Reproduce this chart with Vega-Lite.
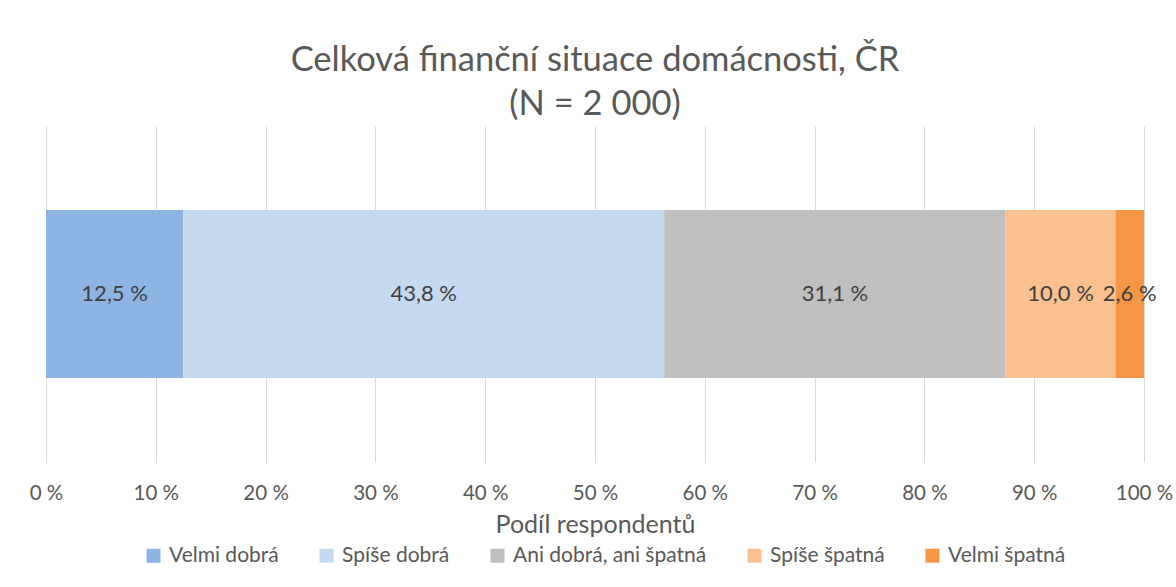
{
  "$schema": "https://vega.github.io/schema/vega-lite/v6.json",
  "width": 1098,
  "height": 336,
  "autosize": {"type": "none"},
  "padding": {"left": 46, "top": 126, "right": 32, "bottom": 125},
  "background": "white",
  "title": {
    "text": ["Celková finanční situace domácnosti, ČR", "(N = 2 000)"],
    "fontSize": 34.5,
    "fontWeight": "normal",
    "font": "Lato",
    "color": "#595959",
    "lineHeight": 44,
    "anchor": "middle",
    "offset": 4
  },
  "data": {
    "values": [
      {"kategorie": "Velmi dobrá", "podil": 12.5, "o": 1, "radek": "ČR"},
      {"kategorie": "Spíše dobrá", "podil": 43.8, "o": 2, "radek": "ČR"},
      {"kategorie": "Ani dobrá, ani špatná", "podil": 31.1, "o": 3, "radek": "ČR"},
      {"kategorie": "Spíše špatná", "podil": 10.0, "o": 4, "radek": "ČR"},
      {"kategorie": "Velmi špatná", "podil": 2.6, "o": 5, "radek": "ČR"}
    ]
  },
  "transform": [
    {"stack": "podil", "groupby": ["radek"], "sort": [{"field": "o"}], "as": ["v0", "v1"]},
    {"calculate": "(datum.v0 + datum.v1) / 2", "as": "mid"},
    {"calculate": "replace(format(datum.podil, '.1f'), '.', ',') + ' %'", "as": "popisek"}
  ],
  "encoding": {
    "y": {
      "field": "radek",
      "type": "nominal",
      "axis": null,
      "scale": {"paddingInner": 0.5, "paddingOuter": 0.25}
    }
  },
  "layer": [
    {
      "mark": {"type": "bar"},
      "encoding": {
        "x": {
          "field": "v0",
          "type": "quantitative",
          "scale": {"domain": [0, 100], "nice": false},
          "axis": {
            "values": [0, 10, 20, 30, 40, 50, 60, 70, 80, 90, 100],
            "labelExpr": "datum.value + ' %'",
            "labelFlush": false,
            "labelOverlap": false,
            "grid": true,
            "gridColor": "#d9d9d9",
            "gridWidth": 1,
            "domain": false,
            "ticks": false,
            "labelFont": "Lato",
            "labelFontSize": 20.5,
            "labelColor": "#595959",
            "labelPadding": 21,
            "title": "Podíl respondentů",
            "titleFont": "Lato",
            "titleFontSize": 25,
            "titleFontWeight": "normal",
            "titleColor": "#595959",
            "titlePadding": 9
          }
        },
        "x2": {"field": "v1"},
        "color": {
          "field": "kategorie",
          "type": "nominal",
          "sort": ["Velmi dobrá", "Spíše dobrá", "Ani dobrá, ani špatná", "Spíše špatná", "Velmi špatná"],
          "scale": {
            "domain": ["Velmi dobrá", "Spíše dobrá", "Ani dobrá, ani špatná", "Spíše špatná", "Velmi špatná"],
            "range": ["#8DB4E2", "#C5D9F1", "#BFBFBF", "#FAC090", "#F79646"]
          },
          "legend": {
            "title": null,
            "orient": "none",
            "legendX": 97,
            "legendY": 419,
            "direction": "horizontal",
            "symbolType": "square",
            "symbolSize": 196,
            "symbolStrokeWidth": 0,
            "labelFont": "Lato",
            "labelFontSize": 21,
            "labelLimit": 400,
            "labelColor": "#595959",
            "columnPadding": 37,
            "labelOffset": 5
          }
        }
      }
    },
    {
      "mark": {"type": "text", "font": "Lato", "fontSize": 22, "color": "#404040", "align": "center", "baseline": "middle"},
      "encoding": {
        "x": {"field": "mid", "type": "quantitative"},
        "text": {"field": "popisek"}
      }
    }
  ],
  "config": {
    "view": {"stroke": null}
  }
}
